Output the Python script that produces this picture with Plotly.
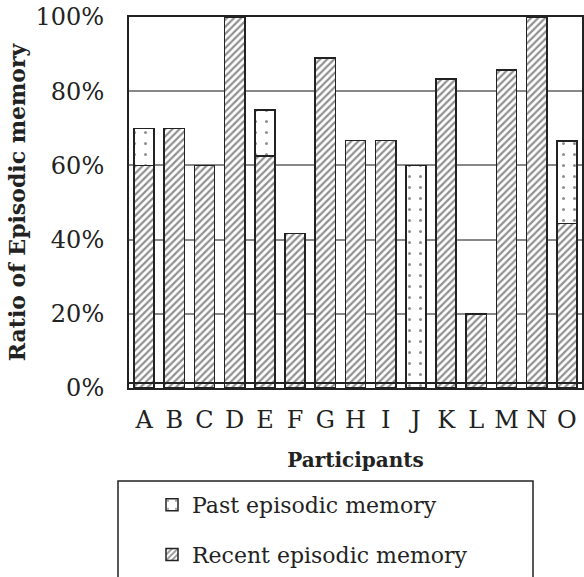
import plotly.graph_objects as go

participants = ["A", "B", "C", "D", "E", "F", "G", "H", "I", "J", "K", "L", "M", "N", "O"]
recent = [60, 70, 60, 100, 62.5, 41.7, 88.9, 66.7, 66.7, 0, 83.3, 20, 85.7, 100, 44.4]
past = [10, 0, 0, 0, 12.5, 0, 0, 0, 0, 60, 0, 0, 0, 0, 22.2]
y_ticks = [0, 20, 40, 60, 80, 100]
y_tick_labels = ["0%", "20%", "40%", "60%", "80%", "100%"]

FONT = "DejaVu Serif"
INK = "#222"

W, H = 584, 577
ML, MR, MT, MB = 129, 2, 17, 189
PW = W - ML - MR
PH = H - MT - MB

def px_x(p):  # page pixel -> paper x
    return (p - ML) / PW

def px_y(p):  # page pixel -> paper y
    return 1 - (p - MT) / PH

fig = go.Figure()
fig.add_trace(go.Bar(
    x=participants, y=recent, name="Recent episodic memory", legendgroup="r", legendrank=2,
    marker=dict(color="white", line=dict(color=INK, width=1.5),
                pattern=dict(shape="/", fgcolor=INK, bgcolor="white", size=5, solidity=0.45)),
    width=0.67,
))
fig.add_trace(go.Bar(
    x=participants, y=past, name="Past episodic memory", legendgroup="p", legendrank=1,
    marker=dict(color="white", line=dict(color=INK, width=1.5),
                pattern=dict(shape=".", fgcolor=INK, bgcolor="white", size=11, solidity=0.06)),
    width=0.67,
))

fig.update_layout(
    width=W, height=H,
    margin=dict(l=ML, r=MR, t=MT, b=MB, autoexpand=False),
    barmode="stack",
    plot_bgcolor="white", paper_bgcolor="white",
    font=dict(family=FONT, size=24, color=INK),
    showlegend=True,
    legend=dict(orientation="v", x=px_x(152), xanchor="left", y=px_y(484), yanchor="top",
                traceorder="grouped", font=dict(size=22, family=FONT),
                bgcolor="rgba(0,0,0,0)", borderwidth=0, itemwidth=30,
                tracegroupgap=18),
    xaxis=dict(title=dict(text="<b>Participants</b>", font=dict(size=20), standoff=20),
               showline=True, linecolor=INK, linewidth=2, mirror=True,
               ticks="", tickfont=dict(size=24), ticklabelstandoff=9),
    yaxis=dict(title=dict(text="<b>Ratio of Episodic memory</b>", font=dict(size=22), standoff=4),
               range=[0, 100], tickvals=y_ticks, ticktext=y_tick_labels,
               showgrid=True, gridcolor="#888", gridwidth=1.5,
               showline=True, linecolor=INK, linewidth=2, mirror=True,
               zeroline=False,
               ticks="", tickfont=dict(size=24), ticklabelstandoff=18),
    shapes=[
        dict(type="rect", xref="paper", yref="paper",
             x0=px_x(118), x1=px_x(533), y0=px_y(481), y1=px_y(600),
             line=dict(color=INK, width=1.5)),
        dict(type="line", xref="paper", yref="paper", x0=0, x1=1,
             y0=px_y(383), y1=px_y(383), line=dict(color=INK, width=2)),
    ],
)

fig.write_html("out.html", config={"displayModeBar": False},
               post_script="document.body.style.margin='0';")
